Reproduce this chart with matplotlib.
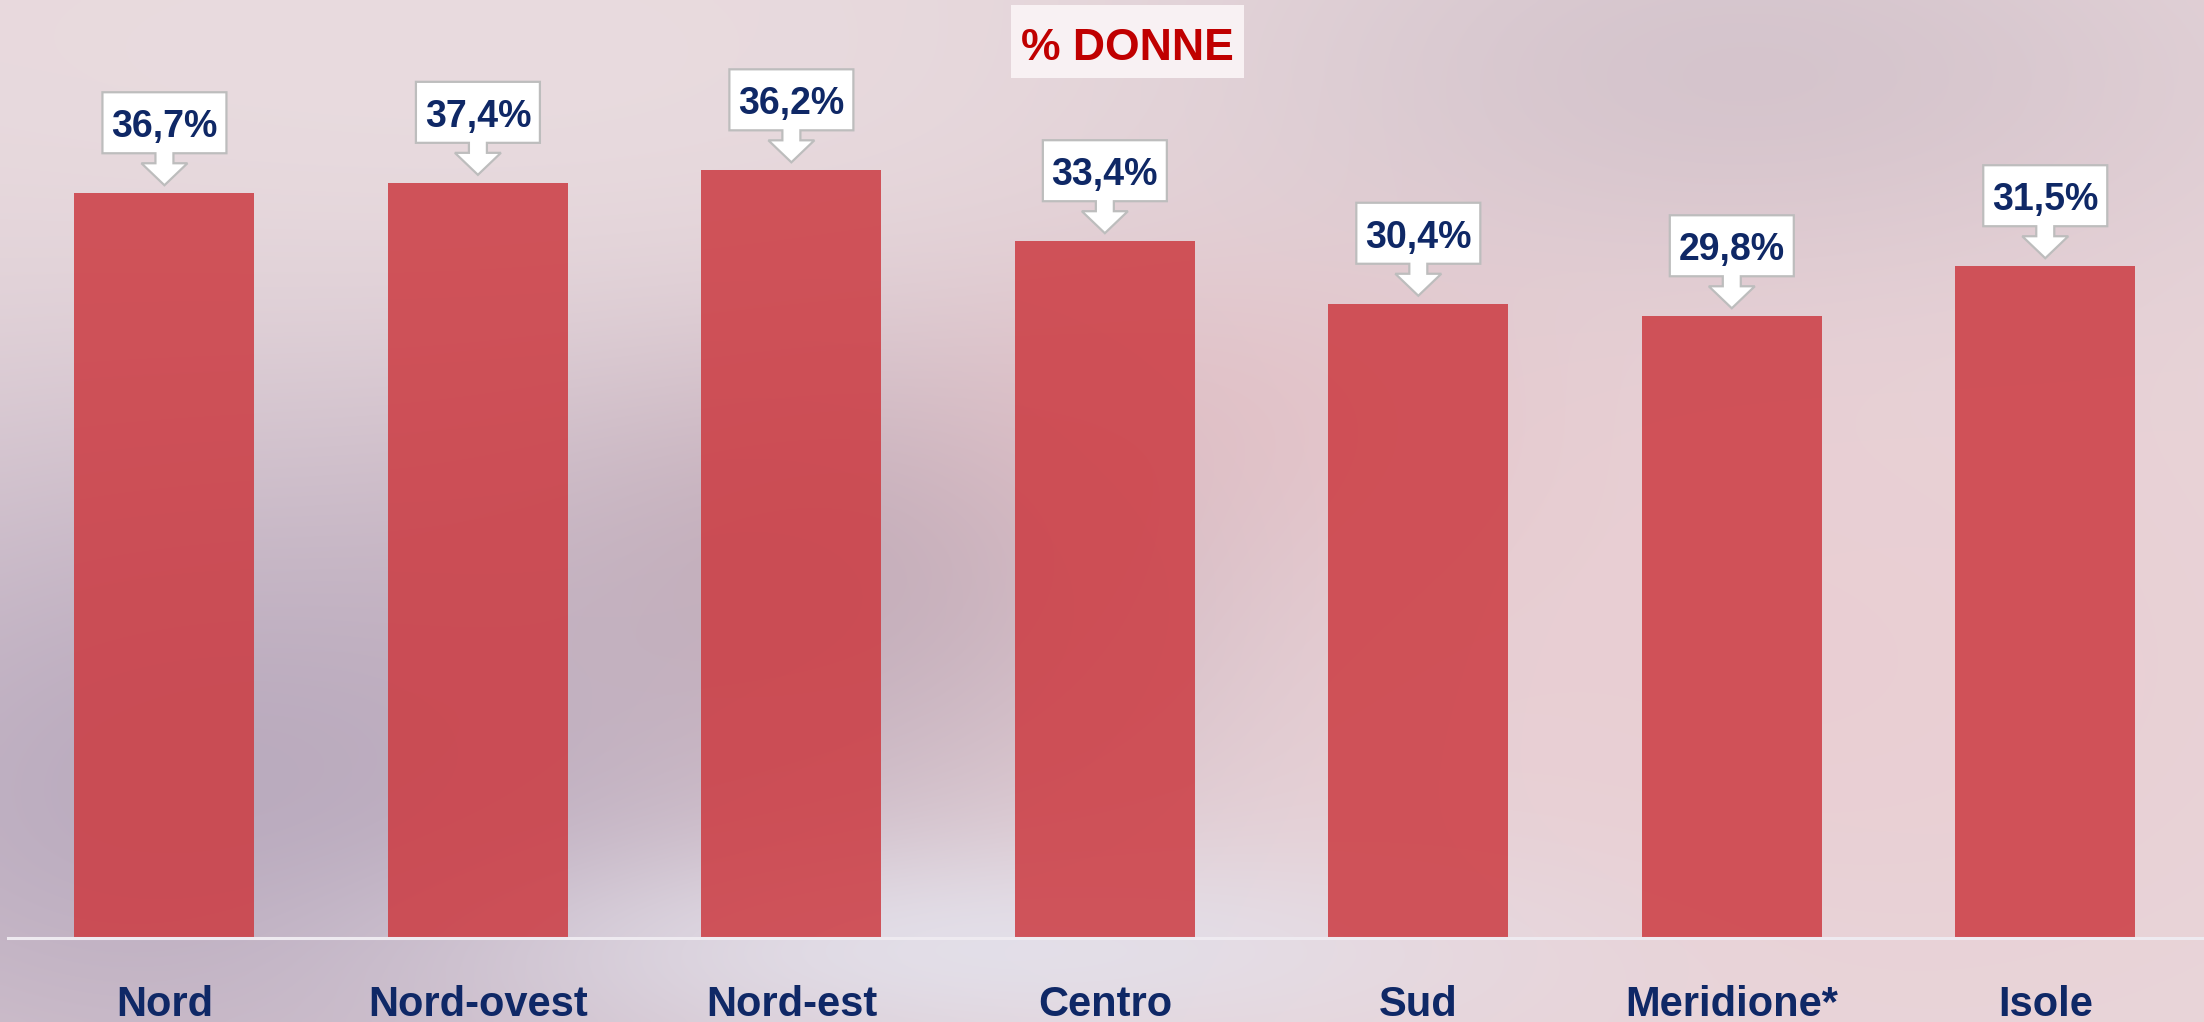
import numpy as np
import matplotlib
matplotlib.use("Agg")
import matplotlib.pyplot as plt
import matplotlib.patches as mpatches
import matplotlib.transforms as mtransforms

# ---- data ----
categories = ["Nord", "Nord-ovest", "Nord-est", "Centro", "Sud", "Meridione*", "Isole"]
bar_heights = [35.7, 36.2, 36.8, 33.4, 30.4, 29.8, 32.2]      # as drawn in the picture
shown_values = [36.7, 37.4, 36.2, 33.4, 30.4, 29.8, 31.5]     # as written in the callouts
title = "% DONNE"

W, H, DPI = 2204, 1022, 100
plt.rcParams['font.family'] = ['Liberation Sans', 'DejaVu Sans']
fig = plt.figure(figsize=(W / DPI, H / DPI), dpi=DPI)

# ---- decorative background ----
bg = fig.add_axes([0, 0, 1, 1], zorder=-10)
yy, xx = np.mgrid[0:1:256j, 0:1:512j]
img = np.ones((256, 512, 3)) * np.array([232, 216, 220]) / 255.0
blobs = [
    ((0.10, 0.78), (0.22, 0.28), (178, 163, 185), 0.85),
    ((0.40, 0.55), (0.12, 0.16), (172, 148, 165), 0.55),
    ((0.78, 0.08), (0.18, 0.16), (203, 188, 198), 0.75),
    ((0.82, 0.65), (0.22, 0.30), (234, 202, 207), 0.65),
    ((0.55, 0.40), (0.10, 0.12), (226, 182, 188), 0.45),
    ((0.45, 0.93), (0.16, 0.07), (228, 226, 236), 0.85),
    ((0.20, 0.08), (0.25, 0.15), (234, 222, 225), 0.6),
]
for (cx, cy), (sx, sy), col, w in blobs:
    g = np.exp(-(((xx - cx) / sx) ** 2 + ((yy - cy) / sy) ** 2) / 2)[..., None] * w
    img = img * (1 - g) + (np.array(col) / 255.0) * g
bg.imshow(img, aspect='auto', extent=[0, 1, 0, 1], interpolation='bicubic')
bg.set_axis_off()

# ---- main axes ----
base_px = 937.6
px_per_unit = 20.85
ax = fig.add_axes([7.7 / W, 1 - base_px / H, 2194.3 / W, base_px / H])
ax.set_facecolor('none')
x = np.arange(len(categories))
ax.bar(x, bar_heights, width=0.574, color='#cc3b42', alpha=0.85, zorder=2)
ax.set_xlim(-0.5, len(categories) - 0.5)
ax.set_ylim(0, base_px / px_per_unit)
for s in ['top', 'right', 'left']:
    ax.spines[s].set_visible(False)
ax.spines['bottom'].set_color('#eeeaf0')
ax.spines['bottom'].set_linewidth(2.2)
ax.set_yticks([])
ax.set_xticks(x)
ax.set_xticklabels(categories, fontsize=30, fontweight='bold', color='#0f2866', va='baseline')
ax.tick_params(axis='x', length=0, pad=78.4 * 72 / DPI)

# ---- callouts ----
hw_box, box_bot, box_top = 62, 40, 101
stem_hw, head_hw, head_top, tip = 9, 23, 30, 8
verts = [(-hw_box, box_top), (hw_box, box_top), (hw_box, box_bot), (stem_hw, box_bot),
         (stem_hw, head_top), (head_hw, head_top), (0, tip), (-head_hw, head_top),
         (-stem_hw, head_top), (-stem_hw, box_bot), (-hw_box, box_bot)]
for xi, h, v in zip(x, bar_heights, shown_values):
    tr = mtransforms.Affine2D() + mtransforms.ScaledTranslation(xi, h, ax.transData)
    poly = mpatches.Polygon(verts, closed=True, facecolor='white', edgecolor='#bdbdbd',
                            linewidth=1.6, transform=tr, zorder=4, clip_on=False)
    ax.add_patch(poly)
    ax.annotate(f"{v:.1f}%".replace('.', ','), xy=(xi, h), xytext=(0, 56 * 72 / DPI),
                textcoords='offset points', ha='center', va='baseline',
                fontsize=27, fontweight='bold', color='#0f2866', zorder=5)

# ---- title ----
fig.patches.append(mpatches.Rectangle((1011 / W, 1 - 78 / H), 233 / W, 73 / H,
                                      transform=fig.transFigure, facecolor='#f8f1f3',
                                      edgecolor='none', zorder=3))
fig.text(1127.5 / W, 1 - 60 / H, title, ha='center', va='baseline', fontsize=32,
         fontweight='bold', color='#c00000', zorder=4)

fig.savefig('out.png', dpi=DPI)
